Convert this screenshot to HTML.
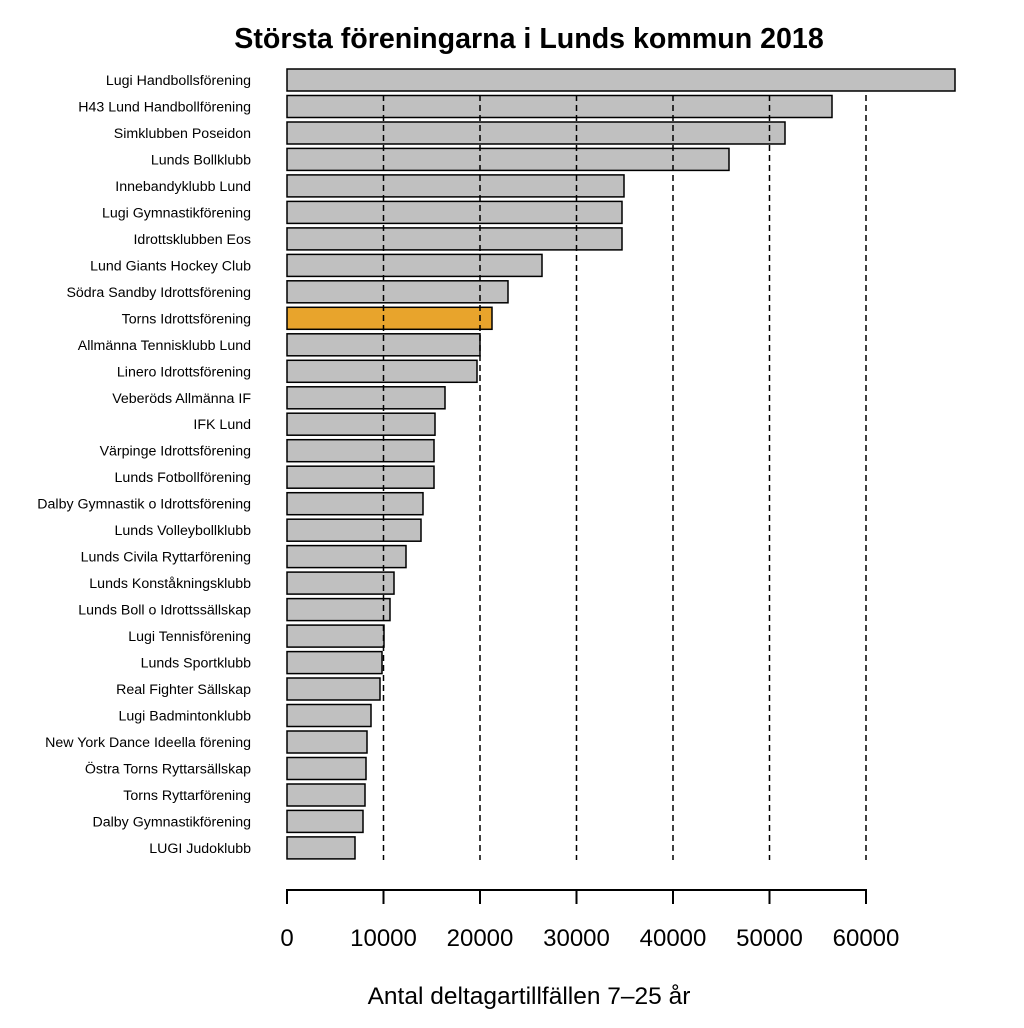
<!DOCTYPE html>
<html><head><meta charset="utf-8"><style>body{margin:0;background:#fff}</style></head><body>
<svg width="1024" height="1023" xmlns="http://www.w3.org/2000/svg" font-family="Liberation Sans, sans-serif">
<rect width="1024" height="1023" fill="#fff"/>
<text x="529" y="48" text-anchor="middle" font-size="28.6" font-weight="bold">Största föreningarna i Lunds kommun 2018</text>
<g fill="#c0c0c0" stroke="#000" stroke-width="1.5">
<rect x="287" y="69" width="668" height="22"/>
<rect x="287" y="95.5" width="545" height="22"/>
<rect x="287" y="122" width="498" height="22"/>
<rect x="287" y="148.4" width="442" height="22"/>
<rect x="287" y="174.9" width="337" height="22"/>
<rect x="287" y="201.4" width="335" height="22"/>
<rect x="287" y="227.9" width="335" height="22"/>
<rect x="287" y="254.4" width="255" height="22"/>
<rect x="287" y="280.8" width="221" height="22"/>
<rect x="287" y="307.3" width="205" height="22" fill="#e8a42c"/>
<rect x="287" y="333.8" width="193" height="22"/>
<rect x="287" y="360.3" width="190" height="22"/>
<rect x="287" y="386.8" width="158" height="22"/>
<rect x="287" y="413.2" width="148" height="22"/>
<rect x="287" y="439.7" width="147" height="22"/>
<rect x="287" y="466.2" width="147" height="22"/>
<rect x="287" y="492.7" width="136" height="22"/>
<rect x="287" y="519.2" width="134" height="22"/>
<rect x="287" y="545.6" width="119" height="22"/>
<rect x="287" y="572.1" width="107" height="22"/>
<rect x="287" y="598.6" width="103" height="22"/>
<rect x="287" y="625.1" width="97" height="22"/>
<rect x="287" y="651.6" width="95" height="22"/>
<rect x="287" y="678" width="93" height="22"/>
<rect x="287" y="704.5" width="84" height="22"/>
<rect x="287" y="731" width="80" height="22"/>
<rect x="287" y="757.5" width="79" height="22"/>
<rect x="287" y="784" width="78" height="22"/>
<rect x="287" y="810.4" width="76" height="22"/>
<rect x="287" y="836.9" width="68" height="22"/>
</g>
<g font-size="14.2" text-anchor="end">
<text x="251" y="85">Lugi Handbollsförening</text>
<text x="251" y="111.5">H43 Lund Handbollförening</text>
<text x="251" y="138">Simklubben Poseidon</text>
<text x="251" y="164.4">Lunds Bollklubb</text>
<text x="251" y="190.9">Innebandyklubb Lund</text>
<text x="251" y="217.4">Lugi Gymnastikförening</text>
<text x="251" y="243.9">Idrottsklubben Eos</text>
<text x="251" y="270.4">Lund Giants Hockey Club</text>
<text x="251" y="296.8">Södra Sandby Idrottsförening</text>
<text x="251" y="323.3">Torns Idrottsförening</text>
<text x="251" y="349.8">Allmänna Tennisklubb Lund</text>
<text x="251" y="376.3">Linero Idrottsförening</text>
<text x="251" y="402.8">Veberöds Allmänna IF</text>
<text x="251" y="429.2">IFK Lund</text>
<text x="251" y="455.7">Värpinge Idrottsförening</text>
<text x="251" y="482.2">Lunds Fotbollförening</text>
<text x="251" y="508.7">Dalby Gymnastik o Idrottsförening</text>
<text x="251" y="535.2">Lunds Volleybollklubb</text>
<text x="251" y="561.6">Lunds Civila Ryttarförening</text>
<text x="251" y="588.1">Lunds Konståkningsklubb</text>
<text x="251" y="614.6">Lunds Boll o Idrottssällskap</text>
<text x="251" y="641.1">Lugi Tennisförening</text>
<text x="251" y="667.6">Lunds Sportklubb</text>
<text x="251" y="694">Real Fighter Sällskap</text>
<text x="251" y="720.5">Lugi Badmintonklubb</text>
<text x="251" y="747">New York Dance Ideella förening</text>
<text x="251" y="773.5">Östra Torns Ryttarsällskap</text>
<text x="251" y="800">Torns Ryttarförening</text>
<text x="251" y="826.4">Dalby Gymnastikförening</text>
<text x="251" y="852.9">LUGI Judoklubb</text>
</g>
<g stroke="#000" stroke-width="1.5" stroke-dasharray="6,4">
<line x1="383.5" y1="95" x2="383.5" y2="860"/><line x1="480" y1="95" x2="480" y2="860"/><line x1="576.5" y1="95" x2="576.5" y2="860"/><line x1="673" y1="95" x2="673" y2="860"/><line x1="769.5" y1="95" x2="769.5" y2="860"/><line x1="866" y1="95" x2="866" y2="860"/>
</g>
<g stroke="#000" stroke-width="2"><line x1="287" y1="890" x2="866" y2="890"/>
<line x1="287" y1="889" x2="287" y2="904"/><line x1="383.5" y1="889" x2="383.5" y2="904"/><line x1="480" y1="889" x2="480" y2="904"/><line x1="576.5" y1="889" x2="576.5" y2="904"/><line x1="673" y1="889" x2="673" y2="904"/><line x1="769.5" y1="889" x2="769.5" y2="904"/><line x1="866" y1="889" x2="866" y2="904"/></g>
<g font-size="24" text-anchor="middle"><text x="287" y="946">0</text><text x="383.5" y="946">10000</text><text x="480" y="946">20000</text><text x="576.5" y="946">30000</text><text x="673" y="946">40000</text><text x="769.5" y="946">50000</text><text x="866" y="946">60000</text></g>
<text x="529" y="1004" text-anchor="middle" font-size="24.5">Antal deltagartillfällen 7–25 år</text>
</svg>
</body></html>
